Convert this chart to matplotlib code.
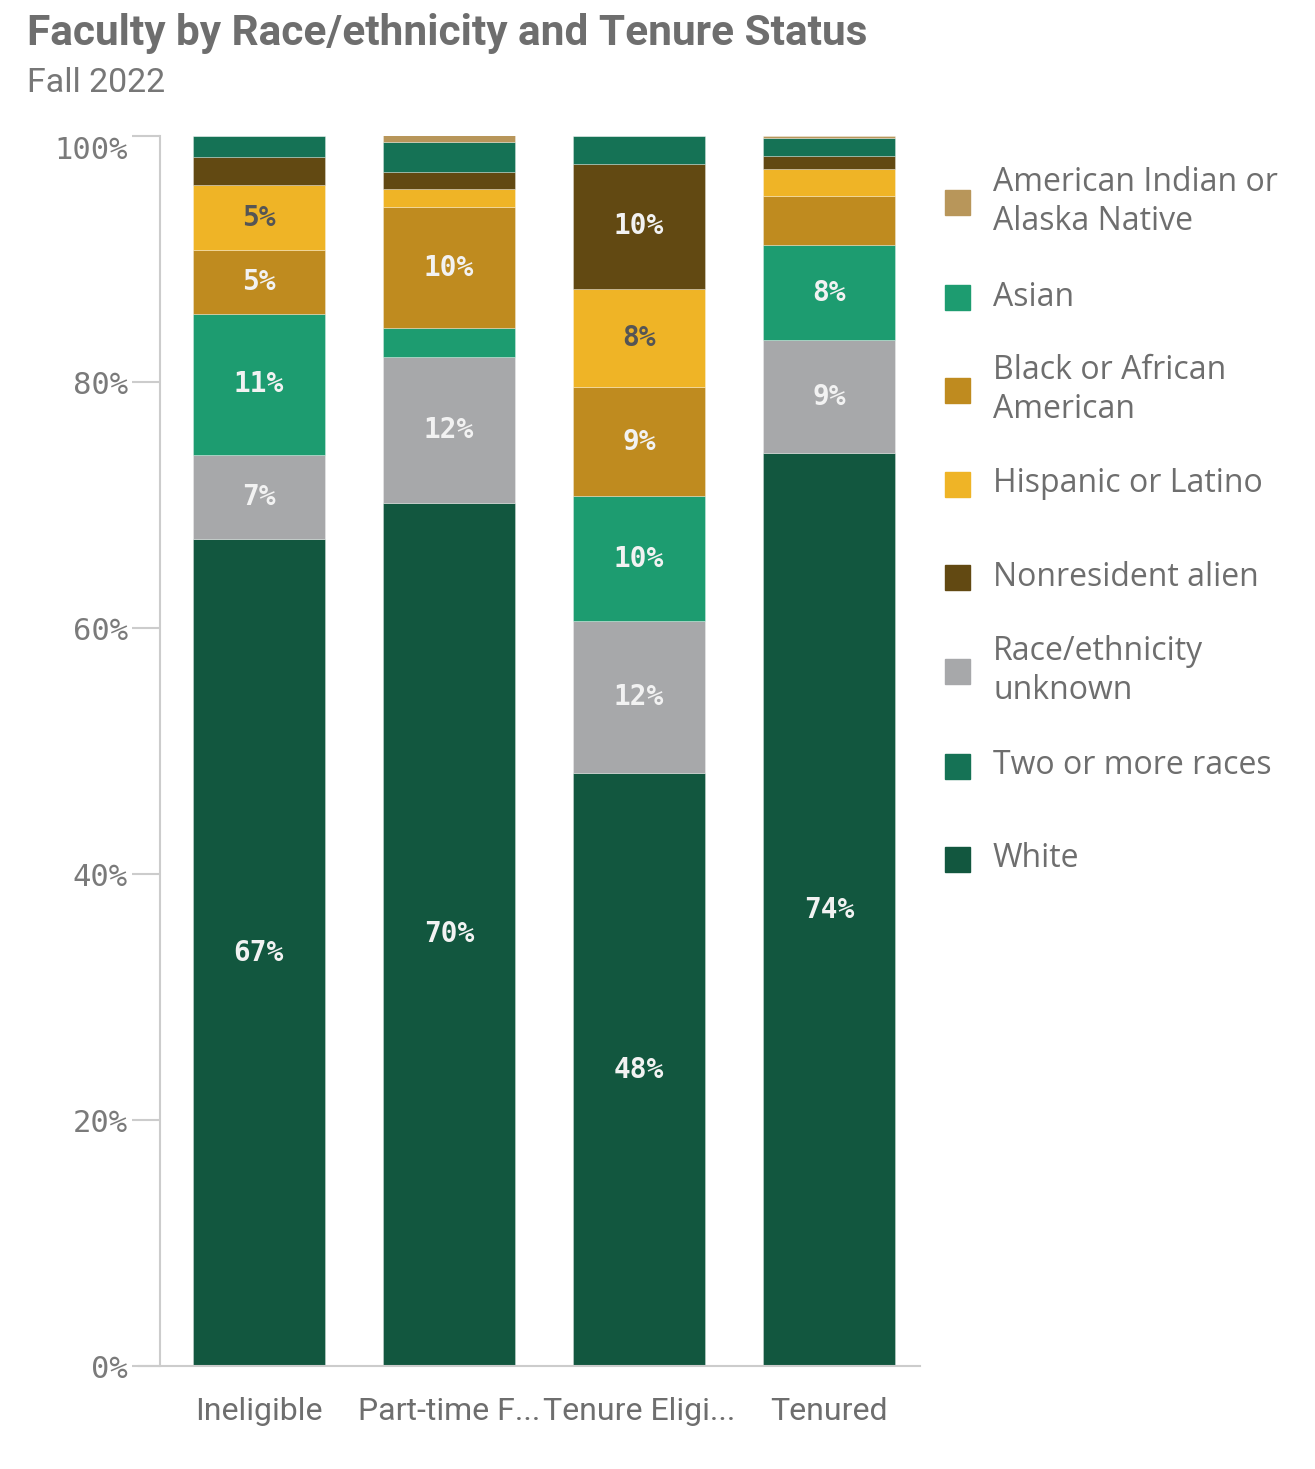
import matplotlib
matplotlib.use("Agg")
import matplotlib.pyplot as plt
import numpy as np

# data (percent of faculty in each tenure group), stacked bottom -> top
groups = ["Ineligible", "Part-time F...", "Tenure Eligi...", "Tenured"]
white = [67.2, 70.2, 48.2, 74.2]
unknown = [6.9, 11.8, 12.4, 9.2]
asian = [11.4, 2.4, 10.1, 7.7]
black = [5.2, 9.8, 8.9, 4.0]
hispanic = [5.3, 1.5, 8.0, 2.2]
nonres = [2.3, 1.4, 10.1, 1.1]
two_more = [1.7, 2.4, 2.3, 1.4]
aian = [0.0, 0.6, 0.0, 0.2]

stack = [
    ("White", white, "#12573f"),
    ("Race/ethnicity\nunknown", unknown, "#a7a8aa"),
    ("Asian", asian, "#1d9c70"),
    ("Black or African\nAmerican", black, "#bf8b1f"),
    ("Hispanic or Latino", hispanic, "#efb426"),
    ("Nonresident alien", nonres, "#624912"),
    ("Two or more races", two_more, "#157255"),
    ("American Indian or\nAlaska Native", aian, "#b8965a"),
]
legend_order = [7, 2, 3, 4, 5, 1, 6, 0]

fig = plt.figure(figsize=(13.15, 14.69), dpi=100)
ax = fig.add_axes([160 / 1315, 103 / 1469, 760 / 1315, 1230 / 1469])

x = np.arange(len(groups))
bottom = np.zeros(len(groups))
for name, vals, col in stack:
    vals = np.array(vals)
    ax.bar(x, vals, bottom=bottom, width=0.695, color=col,
           edgecolor=(1, 1, 1, 0.35), linewidth=0.6)
    for i, v in enumerate(vals):
        if v >= 4.5:
            tc = "#555555" if col == "#efb426" else "#f2f2f2"
            ax.text(x[i], bottom[i] + v / 2, "%d%%" % round(v), ha="center",
                    va="center", color=tc, fontsize=20, fontweight="bold",
                    family="DejaVu Sans Mono")
    bottom += vals

ax.set_xlim(-0.52, 3.48)
ax.set_ylim(0, 100)
ax.set_yticks([0, 20, 40, 60, 80, 100])
ax.set_yticklabels(["0%", "20%", "40%", "60%", "80%", "100%"],
                   family="DejaVu Sans Mono", fontsize=22, color="#7a7a7a")
ax.get_yticklabels()[-1].set_verticalalignment("top")
ax.set_xticks(x)
ax.set_xticklabels(groups, family="Roboto", fontsize=23, color="#6e6e6e")
ax.tick_params(axis="y", length=20, color="#cccccc", width=1.5, pad=3)
ax.tick_params(axis="x", length=0, pad=22)
for s in ["top", "right"]:
    ax.spines[s].set_visible(False)
ax.spines["left"].set_color("#cccccc")
ax.spines["left"].set_linewidth(1.5)
ax.spines["bottom"].set_color("#cccccc")
ax.spines["bottom"].set_linewidth(1.5)
ax.spines["bottom"].set_bounds(-0.63, 3.48)
ax.spines["bottom"].set_clip_on(False)

# legend drawn by hand
ys = [202, 297, 390, 484, 577, 671, 766, 859]
for k, yy in zip(legend_order, ys):
    name, vals, col = stack[k]
    fig.patches.append(matplotlib.patches.Rectangle(
        (945 / 1315, 1 - (yy + 13) / 1469), 25 / 1315, 25 / 1469,
        transform=fig.transFigure, color=col))
    fig.text(993 / 1315, 1 - yy / 1469, name, fontsize=23, color="#6e6e6e",
             family="Open Sans", va="center", ha="left", linespacing=1.22)

fig.text(27 / 1315, 1 - 33 / 1469, "Faculty by Race/ethnicity and Tenure Status",
         fontsize=30.5, fontweight="bold", family="Roboto",
         color="#6e6e6e", va="center")
fig.text(27 / 1315, 1 - 83 / 1469, "Fall 2022", fontsize=24.5,
         family="Roboto", color="#777777", va="center")

fig.savefig("out.png", dpi=100, facecolor="white")
